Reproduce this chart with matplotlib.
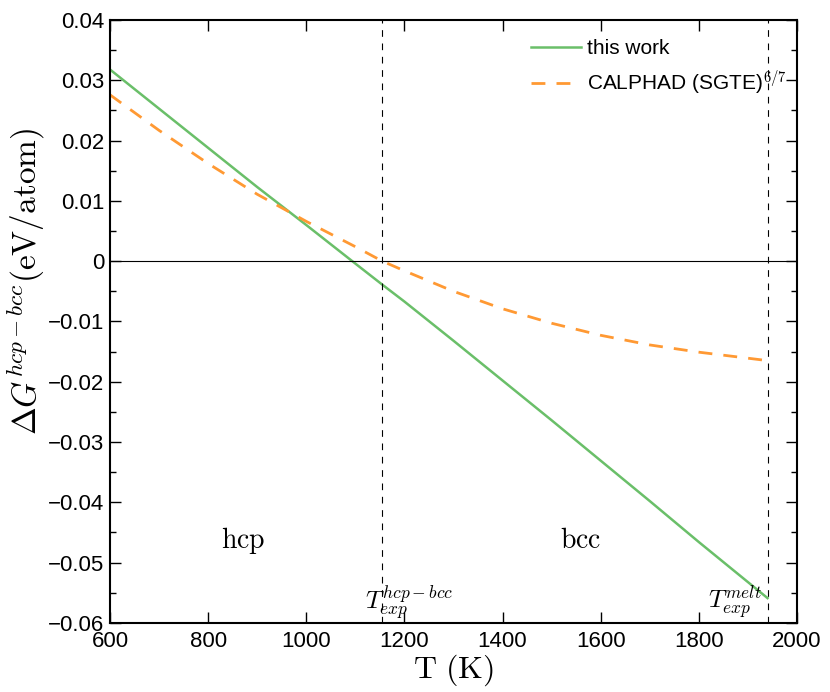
import matplotlib
matplotlib.use("Agg")
import matplotlib.pyplot as plt
from matplotlib.ticker import MultipleLocator, FuncFormatter

plt.rcParams["mathtext.fontset"] = "cm"
plt.rcParams["font.family"] = ["Liberation Sans", "DejaVu Sans"]

# temperatures (K)
T = [600, 700, 800, 900, 1000, 1100, 1155, 1200, 1300, 1400, 1500, 1600, 1700, 1800, 1940]
# Delta G hcp-bcc (eV/atom)
dG_this_work = [0.0318, 0.0253, 0.0188, 0.0123, 0.0060, -0.0004, -0.0039, -0.0067,
                -0.0132, -0.0198, -0.0264, -0.0331, -0.0398, -0.0466, -0.0559]
dG_calphad = [0.0276, 0.0217, 0.0162, 0.0111, 0.0066, 0.0024, 0.0, -0.0016,
              -0.0050, -0.0079, -0.0103, -0.0123, -0.0139, -0.0151, -0.0165]

T_hcp_bcc = 1155
T_melt = 1940


def yfmt(v, pos):
    if abs(v) < 1e-9:
        return "0"
    return f"{v:.2f}".replace("-", "\u2212")


fig = plt.figure(figsize=(8.3, 6.92), dpi=100)
ax = fig.add_axes([0.1325, 0.1, 0.8277, 0.871])

ax.plot(T, dG_this_work, color="#6abf69", lw=1.8, label="this work")
ax.plot(T, dG_calphad, color="#ff9933", lw=2, linestyle=(0, (5, 4)),
        label=r"CALPHAD (SGTE)$^{\mathsf{6/7}}$")

# reference lines
ax.axhline(0, color="black", lw=0.8)
ax.axvline(T_hcp_bcc, color="black", lw=0.8, linestyle=(0, (6, 6)))
ax.axvline(T_melt, color="black", lw=0.8, linestyle=(0, (6, 6)))

ax.text(872, -0.0464, r"$\mathrm{hcp}$", fontsize=20, ha="center", va="center")
ax.text(1560, -0.0464, r"$\mathrm{bcc}$", fontsize=20, ha="center", va="center")
ax.text(1210, -0.0567, r"$T_{exp}^{hcp-bcc}$", fontsize=18, ha="center", va="center")
ax.text(1873, -0.0567, r"$T_{exp}^{melt}$", fontsize=18, ha="center", va="center")

ax.set_xlim(600, 2000)
ax.set_ylim(-0.06, 0.04)
ax.xaxis.set_major_locator(MultipleLocator(200))
ax.yaxis.set_major_locator(MultipleLocator(0.01))
ax.yaxis.set_minor_locator(MultipleLocator(0.005))
ax.yaxis.set_major_formatter(FuncFormatter(yfmt))
ax.tick_params(which="both", direction="in", top=True, right=True, labelsize=16)
ax.tick_params(which="major", length=8, width=1)
ax.tick_params(which="minor", length=4, width=1)
ax.tick_params(axis="x", pad=6)
ax.tick_params(axis="y", pad=4)
for s in ax.spines.values():
    s.set_linewidth(1.5)

ax.set_xlabel(r"$\mathrm{T\ (K)}$", fontsize=23, labelpad=0)
ax.set_ylabel(r"$\Delta G^{hcp-bcc}(\mathrm{eV/atom})$", fontsize=24)
ax.yaxis.set_label_coords(-0.092, 0.567)

ax.legend(loc="upper right", frameon=False, fontsize=15, handlelength=2.4,
          handletextpad=0.3, labelspacing=0.5, bbox_to_anchor=(1.012, 1.0))

fig.savefig("out.png", dpi=100)
